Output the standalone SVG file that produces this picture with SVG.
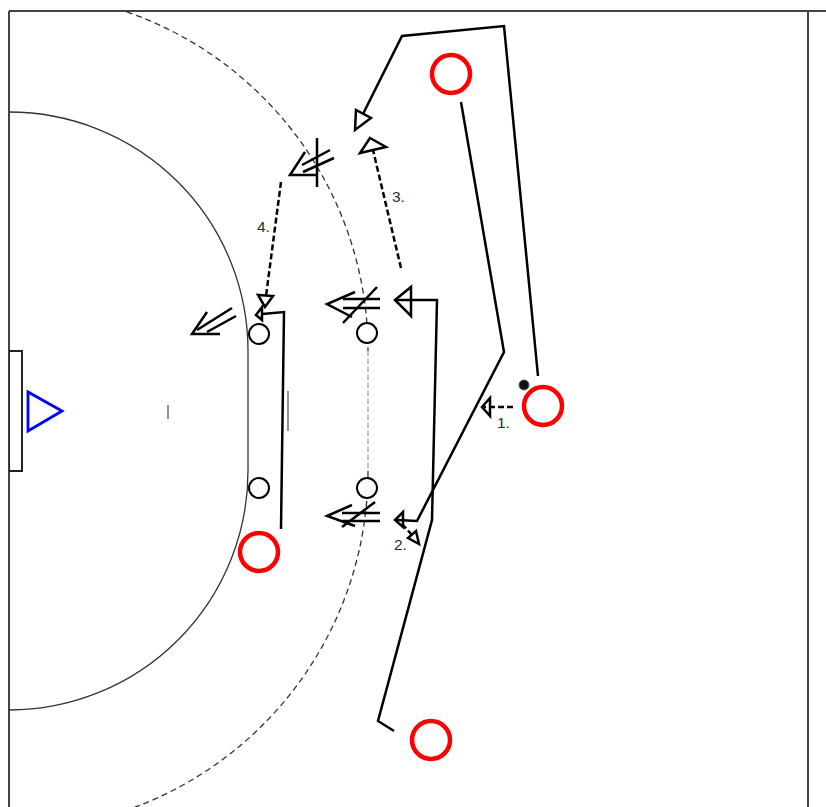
<svg xmlns="http://www.w3.org/2000/svg" width="826" height="807" viewBox="0 0 826 807">
<defs>
<style>
.frame{stroke:#444;stroke-width:2;fill:none}
.court{stroke:#333;stroke-width:1.3;fill:none}
.nine{stroke:#333;stroke-width:1.3;fill:none;stroke-dasharray:6 4}
.nine-v{stroke:#999;stroke-width:1.2;fill:none;stroke-dasharray:5 3}
.mark{stroke:#777;stroke-width:1.6;fill:none}
.run{stroke:#000;stroke-width:2.5;fill:none;stroke-linejoin:miter}
.pass{stroke:#000;stroke-width:2.5;fill:none;stroke-dasharray:6 3}
.head{stroke:#000;stroke-width:2.5;fill:#fff;stroke-linejoin:miter}
.headn{stroke:#000;stroke-width:2.5;fill:none}
.att{stroke:#f00;stroke-width:4.5;fill:none}
.def{stroke:#000;stroke-width:2;fill:#fff}
.lbl{font-family:"Liberation Sans",Arial,sans-serif;font-size:15.5px;fill:#2a2a3a}
</style>
<clipPath id="field"><rect x="9" y="11" width="799" height="796"/></clipPath>
</defs>
<rect width="826" height="807" fill="#fff"/>
<g id="frame">
<line class="frame" x1="9" y1="11" x2="826" y2="11"/>
<line class="frame" x1="9" y1="11" x2="9" y2="807"/>
<line class="frame" x1="808" y1="11" x2="808" y2="807"/>
</g>
<g id="court" clip-path="url(#field)">
<path class="court" d="M 9 112 A 239 239 0 0 1 248 351 L 248 471 A 239 239 0 0 1 9 710"/>
<path class="nine" d="M 9 -8 A 359 359 0 0 1 368 351"/>
<path class="nine" d="M 368 471 A 359 359 0 0 1 9 830"/>
<line class="nine-v" x1="368" y1="351" x2="368" y2="471"/>
<rect x="9" y="351" width="13" height="120" fill="#fff" stroke="#222" stroke-width="2"/>
<line class="mark" x1="168" y1="405" x2="168" y2="419"/>
<line class="mark" x1="288" y1="391" x2="288" y2="431"/>
</g>
<g id="goalkeeper">
<polygon points="28,392 28,431 62,411" fill="none" stroke="#0000ff" stroke-width="2.8"/>
</g>
<g id="connectors">
<polyline class="run" points="538,376 504,26 402,36 363,114"/>
<polygon class="head" points="355,130 356,110 371,118"/>
<polyline class="run" points="461,102 504,352 417,521 397,520"/>
<polygon class="headn" points="395,520 403,512 403,527"/>
<polyline class="run" points="394,731 378,721 432,520 437,300 395,300"/>
<polygon class="headn" points="395,300 411,287 411,316"/>
<polyline class="run" points="281,529 284,312 262,314"/>
<polygon class="headn" points="256,315 262,307 262,320"/>
<line class="pass" x1="513" y1="407" x2="484" y2="407"/>
<polygon class="headn" points="482,407 490,398 490,416"/>
<line class="pass" x1="402" y1="524" x2="412" y2="535"/>
<polygon class="head" points="419,544 408,538 416,531"/>
<line class="pass" x1="401" y1="268" x2="373" y2="150"/>
<polygon class="head" points="370,138 386,147 360,153"/>
<line class="pass" x1="281" y1="182" x2="266" y2="296"/>
<polygon class="head" points="265,307 258,295 273,296"/>
<polyline class="run" points="207,312 192,334 220,334"/>
<line class="run" x1="197" y1="330" x2="232" y2="308"/>
<line class="run" x1="207" y1="332" x2="236" y2="316"/>
<polyline class="run" points="305,152 290,175 317,175"/>
<line class="run" x1="302" y1="165" x2="330" y2="150"/>
<line class="run" x1="303" y1="172" x2="334" y2="158"/>
<line class="run" x1="317" y1="138" x2="317" y2="187"/>
<polyline class="run" points="355,292 327,304 352,317"/>
<line class="run" x1="343" y1="299" x2="380" y2="299"/>
<line class="run" x1="343" y1="308" x2="380" y2="308"/>
<line class="run" x1="343" y1="323" x2="377" y2="287"/>
<polyline class="run" points="352,505 327,516 355,526"/>
<line class="run" x1="342" y1="513" x2="380" y2="513"/>
<line class="run" x1="342" y1="521" x2="380" y2="521"/>
<line class="run" x1="342" y1="527" x2="375" y2="502"/>
</g>
<g id="defender-1"><circle class="def" cx="259" cy="334" r="10"/></g>
<g id="defender-2"><circle class="def" cx="367" cy="333" r="10"/></g>
<g id="defender-3"><circle class="def" cx="259" cy="488" r="10"/></g>
<g id="defender-4"><circle class="def" cx="367" cy="488" r="10"/></g>
<g id="attacker-1"><circle class="att" cx="451" cy="74" r="19"/></g>
<g id="attacker-2"><circle class="att" cx="543" cy="406" r="19"/></g>
<g id="attacker-3"><circle class="att" cx="259" cy="552" r="19"/></g>
<g id="attacker-4"><circle class="att" cx="431" cy="740" r="19"/></g>
<g id="ball"><circle cx="524" cy="385" r="5" fill="#111" stroke="#555" stroke-width="1"/></g>
<g id="labels">
<text class="lbl" x="497" y="428">1.</text>
<text class="lbl" x="394" y="550">2.</text>
<text class="lbl" x="392" y="202">3.</text>
<text class="lbl" x="257" y="232">4.</text>
</g>
</svg>
